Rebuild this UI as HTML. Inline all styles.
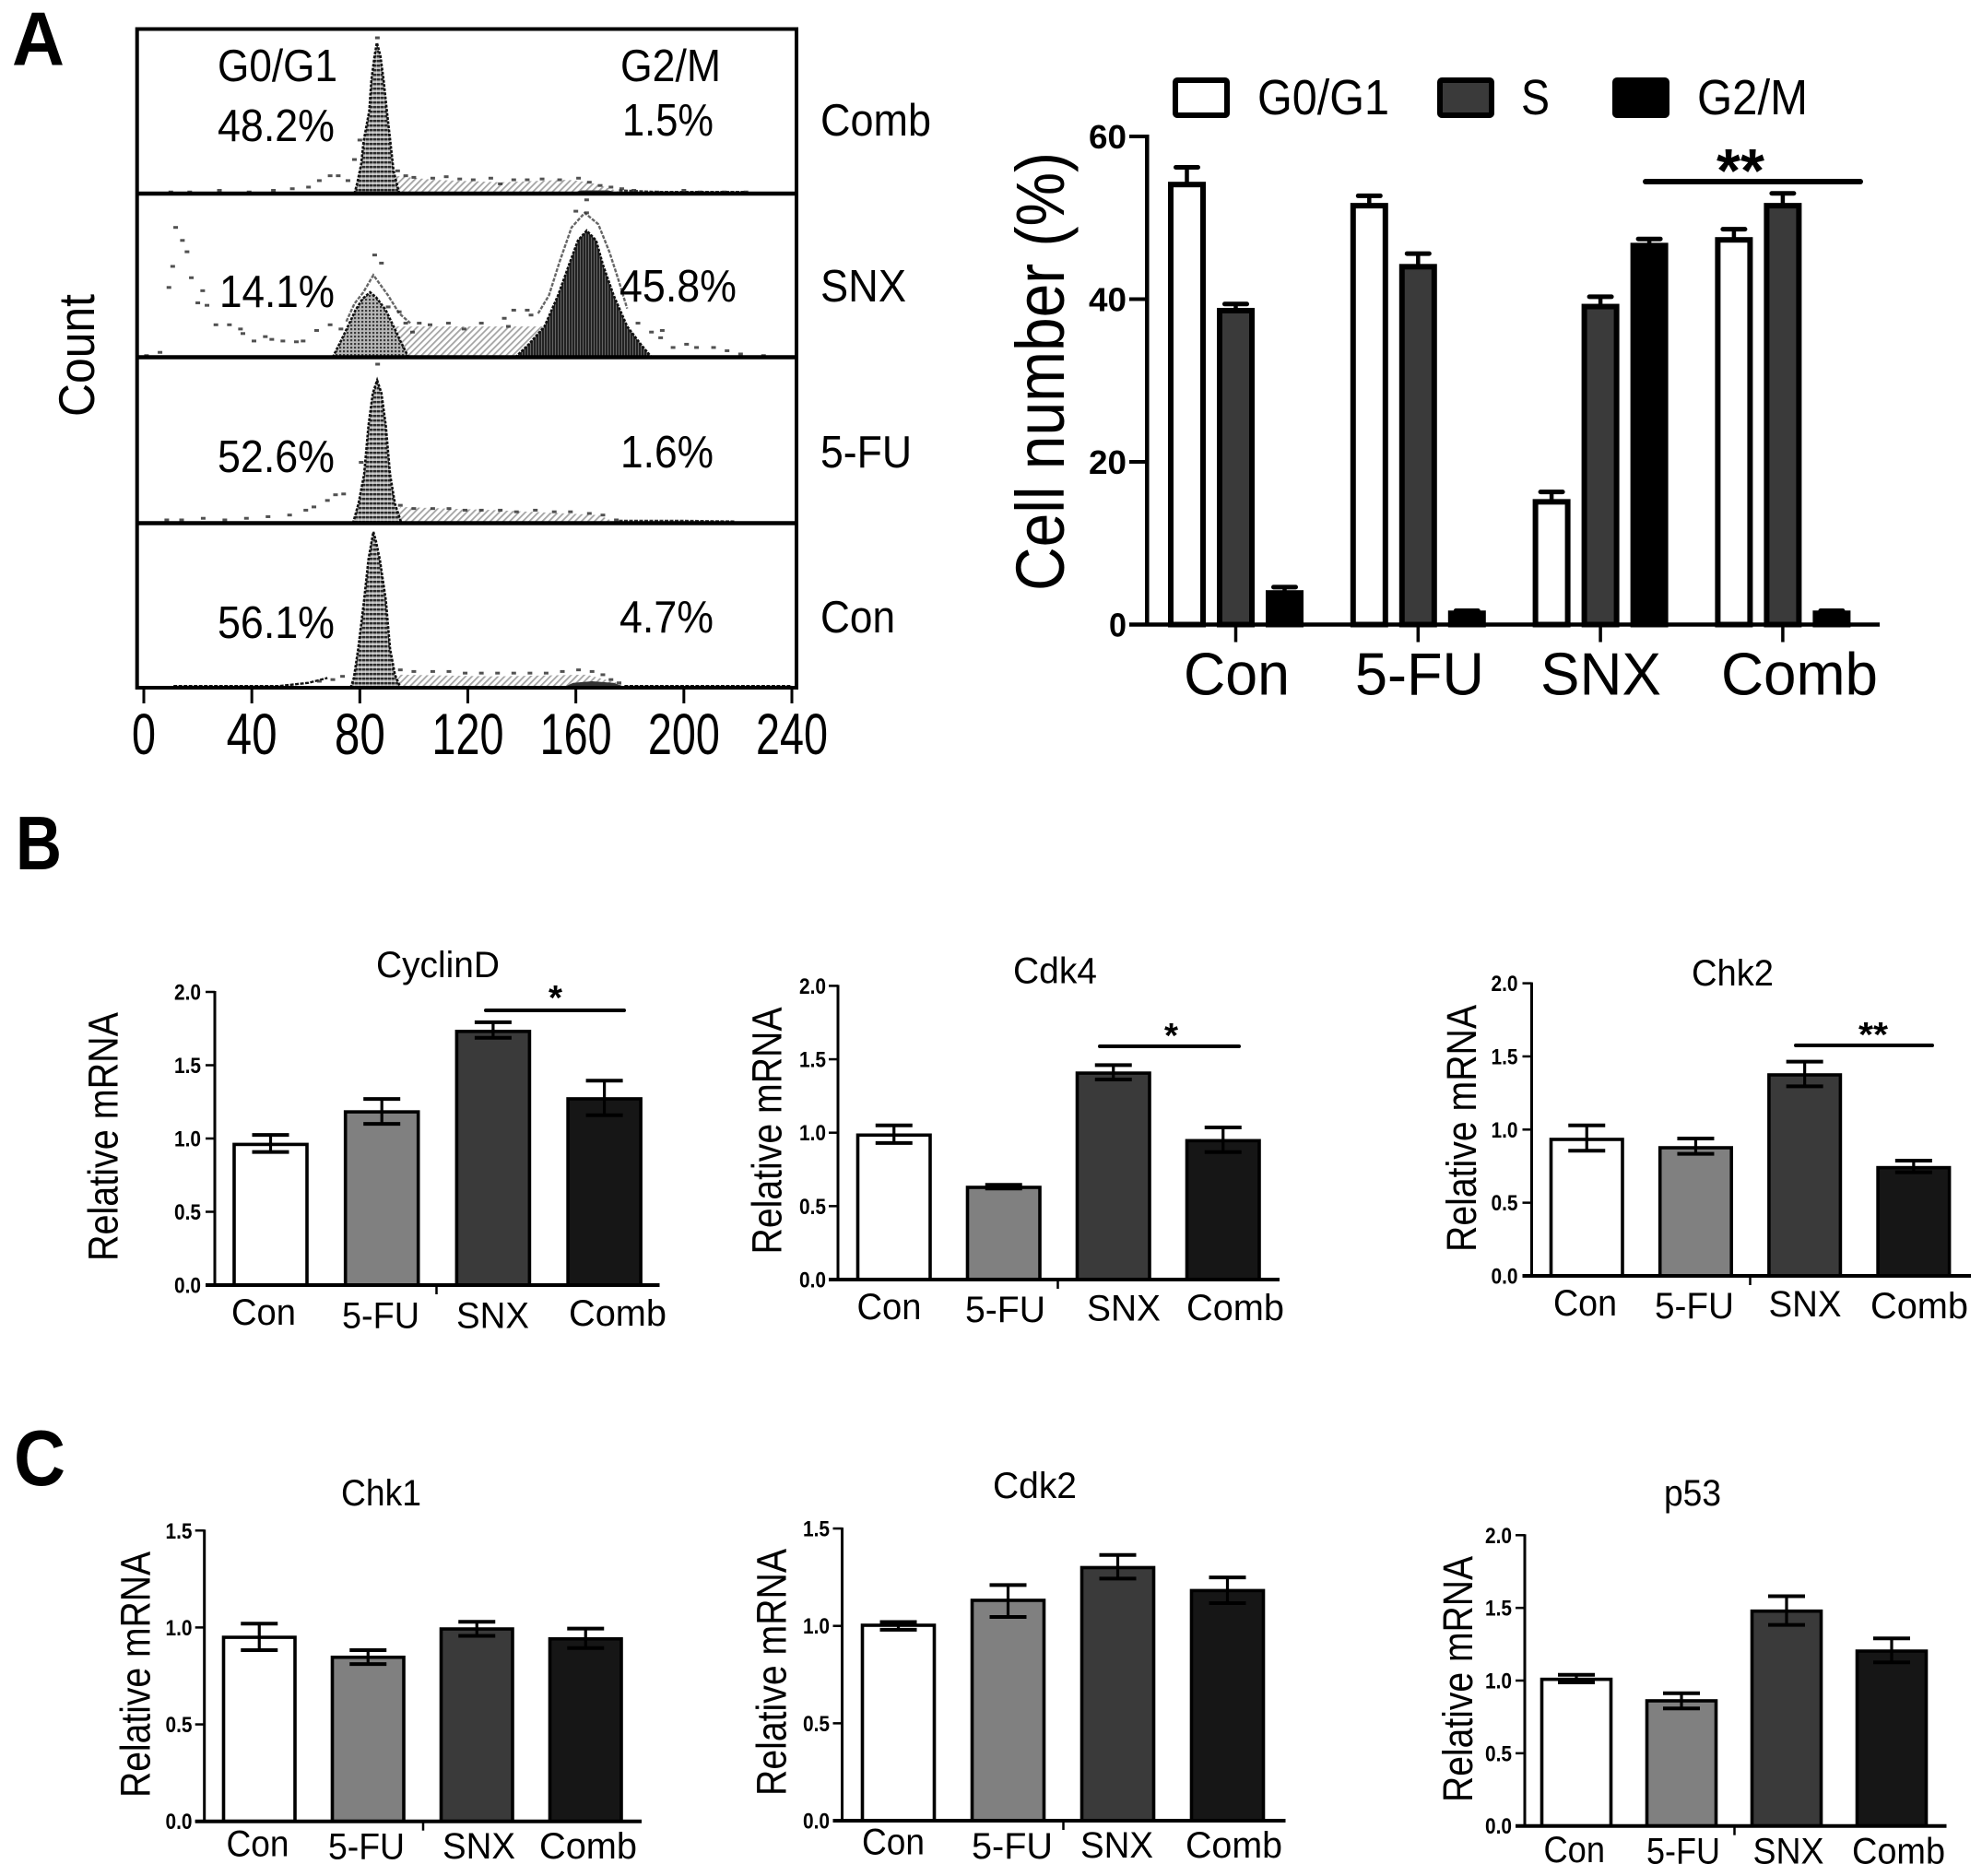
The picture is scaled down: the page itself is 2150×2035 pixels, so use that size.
<!DOCTYPE html>
<html lang="en">
<head>
<meta charset="utf-8">
<title>Cell cycle analysis figure</title>
<style>
html,body{margin:0;padding:0;background:#fff;}
svg{display:block;}
text{font-family:"Liberation Sans",Arial,sans-serif;fill:#000;}
</style>
</head>
<body>
<svg id="figure" xmlns="http://www.w3.org/2000/svg" width="2150" height="2035" viewBox="0 0 2150 2035">
<defs>
<pattern id="fill-g1" width="4" height="5" patternUnits="userSpaceOnUse"><rect width="4" height="5" fill="#bdbdbd"/><rect width="4" height="2.4" fill="#2c2c2c"/><rect width="1" height="5" fill="#fff" opacity=".4"/></pattern>
<pattern id="fill-g1-dot" width="4" height="4" patternUnits="userSpaceOnUse"><rect width="4" height="4" fill="#b8b8b8"/><rect width="2.2" height="2.2" fill="#3c3c3c"/></pattern>
<pattern id="fill-g2" width="3" height="4" patternUnits="userSpaceOnUse"><rect width="3" height="4" fill="#6c6c6c"/><rect width="2.1" height="4" fill="#222"/></pattern>
<pattern id="fill-s" width="5" height="5" patternUnits="userSpaceOnUse" patternTransform="rotate(45)"><rect width="5" height="5" fill="#fff"/><rect width="1.8" height="5" fill="#a4a4a4"/></pattern>
</defs>

<g font-weight="700">
<text x="13" y="70.5" font-size="83" font-weight="700" textLength="57" lengthAdjust="spacingAndGlyphs">A</text>
<text x="17" y="943" font-size="83" font-weight="700" textLength="50" lengthAdjust="spacingAndGlyphs">B</text>
<text x="15" y="1611" font-size="85" font-weight="700" textLength="56" lengthAdjust="spacingAndGlyphs">C</text>
</g>

<g id="flow-layer"></g>

<g font-size="49">
<text x="236" y="88" textLength="130" lengthAdjust="spacingAndGlyphs">G0/G1</text>
<text x="673" y="88" textLength="109" lengthAdjust="spacingAndGlyphs">G2/M</text>
<text x="236" y="153" textLength="127" lengthAdjust="spacingAndGlyphs">48.2%</text>
<text x="675" y="147" textLength="99" lengthAdjust="spacingAndGlyphs">1.5%</text>
<text x="238" y="333" textLength="125" lengthAdjust="spacingAndGlyphs">14.1%</text>
<text x="672" y="327" textLength="127" lengthAdjust="spacingAndGlyphs">45.8%</text>
<text x="236" y="512" textLength="127" lengthAdjust="spacingAndGlyphs">52.6%</text>
<text x="673" y="507" textLength="101" lengthAdjust="spacingAndGlyphs">1.6%</text>
<text x="236" y="692" textLength="127" lengthAdjust="spacingAndGlyphs">56.1%</text>
<text x="672" y="686" textLength="102" lengthAdjust="spacingAndGlyphs">4.7%</text>
<text x="890" y="147" textLength="120" lengthAdjust="spacingAndGlyphs">Comb</text>
<text x="890" y="327" textLength="93" lengthAdjust="spacingAndGlyphs">SNX</text>
<text x="890" y="507" textLength="99" lengthAdjust="spacingAndGlyphs">5-FU</text>
<text x="890" y="686" textLength="81" lengthAdjust="spacingAndGlyphs">Con</text>
<text transform="translate(102,452) rotate(-90)" font-size="55" textLength="133" lengthAdjust="spacingAndGlyphs">Count</text>
</g>

<g>
<rect x="1275" y="87" width="56" height="38" rx="2" fill="#fff" stroke="#000" stroke-width="6"/>
<text x="1364" y="124" font-size="54" textLength="143" lengthAdjust="spacingAndGlyphs">G0/G1</text>
<rect x="1562" y="87" width="56" height="38" rx="2" fill="#3a3a3a" stroke="#000" stroke-width="6"/>
<text x="1650" y="124" font-size="54" textLength="31" lengthAdjust="spacingAndGlyphs">S</text>
<rect x="1752" y="87" width="56" height="38" rx="2" fill="#000" stroke="#000" stroke-width="6"/>
<text x="1841" y="124" font-size="54" textLength="120" lengthAdjust="spacingAndGlyphs">G2/M</text>
</g>

<text transform="translate(1154,641) rotate(-90)" font-size="74" textLength="476" lengthAdjust="spacingAndGlyphs">Cell number (%)</text>
<g id="cell-bars-layer"></g>
<line x1="1785" y1="197" x2="2018" y2="197" stroke="#000" stroke-width="6" stroke-linecap="round"/>
<text x="1862" y="208" font-size="67" font-weight="700" textLength="52" lengthAdjust="spacingAndGlyphs">**</text>

<g id="mrna-layer"></g>

<g font-size="40">
<text x="408" y="1060" textLength="134" lengthAdjust="spacingAndGlyphs">CyclinD</text>
<text x="1099" y="1066.5" textLength="91" lengthAdjust="spacingAndGlyphs">Cdk4</text>
<text x="1835" y="1069" textLength="89" lengthAdjust="spacingAndGlyphs">Chk2</text>
<text x="370" y="1633" textLength="87" lengthAdjust="spacingAndGlyphs">Chk1</text>
<text x="1077" y="1625" textLength="91" lengthAdjust="spacingAndGlyphs">Cdk2</text>
<text x="1805" y="1633" textLength="62" lengthAdjust="spacingAndGlyphs">p53</text>
</g>

<g>
<line x1="527" y1="1096" x2="677" y2="1096" stroke="#000" stroke-width="4" stroke-linecap="round"/>
<text x="595" y="1095" font-size="38" font-weight="700" textLength="15" lengthAdjust="spacingAndGlyphs">*</text>
<line x1="1193" y1="1135" x2="1344" y2="1135" stroke="#000" stroke-width="4" stroke-linecap="round"/>
<text x="1263" y="1136" font-size="38" font-weight="700" textLength="15" lengthAdjust="spacingAndGlyphs">*</text>
<line x1="1948" y1="1134" x2="2096" y2="1134" stroke="#000" stroke-width="4" stroke-linecap="round"/>
<text x="2016" y="1135" font-size="38" font-weight="700" textLength="32" lengthAdjust="spacingAndGlyphs">**</text>
</g>

<script>
/* ---------- Panel A: flow histogram readings as [channel, count] ---------- */
const flowTicks = [0, 40, 80, 120, 160, 200, 240];

const combG1 = [[78,0],[79,6],[80.5,18],[81.4,32],[83.5,51],[84.3,70],[85.5,85],[86.3,93],[87.6,85],[88.8,70],[90,51],[91.3,32],[92.5,14],[94.6,0]];
const combS = [[90,0],[93,11],[107,8.5],[132,7],[157,8.5],[165,7],[173,3],[178,0]];
const combG2 = [[158,0],[162,2],[172,2],[177,0]];
const combTrace = [[176,2],[190,1],[223,1]];
const combDots = [[10,1],[17,1],[28,2],[39,1],[48,2],[55,3],[61,4],[65,8],[69,11],[72,11],[75.6,8],[78,21],[80,33],[86.5,96],[94,14],[97,11],[100,10],[107,9.5],[112,10.4],[117,9],[122,8.5],[128.5,9.5],[132,6],[137,8.5],[142,8.5],[147.5,9],[154,8.5],[161,9.5],[165,7],[169,5],[173,4],[177,3],[181.5,2],[190,1],[200,2],[206,1],[215,1],[223,1]];

const snxG1 = [[70,0],[73,10],[75.6,19],[78.4,29],[81,36],[83.8,40],[86,37],[89.6,29],[92.5,19],[95,10],[98,0]];
const snxS = [[84,0],[92,19],[148,19],[165,0]];
const snxG2 = [[137.6,0],[142.6,8],[148.4,19],[153.4,38],[157.5,57],[160.8,72],[164,78],[167.5,72],[170,57],[174,38],[179,19],[184,8],[188,0]];
const snxTrace = [[75,22],[78,33],[81.3,40],[85,50.6],[90.5,38],[94.6,27],[98.7,21]];
const snxTrace2 = [[146,27],[150,38],[154,59],[158.4,80],[163.3,89],[168.3,82],[172.4,65],[175.7,48],[179,30]];
const snxDots = [[1,1],[6,3],[11.8,80],[14.3,72],[16,65],[10.7,56],[9.3,43],[17.6,49],[21.8,41],[20,33.5],[23.4,32],[26.7,20],[31.7,20],[35.8,17.4],[36.7,14.6],[40.8,10],[45,12.7],[47.4,11],[51.5,10],[56.5,9.5],[59,10],[64,16.5],[69,20],[73,17.4],[85.5,63],[88,58],[90.5,31],[94.6,28],[97,21],[102,21],[99.5,15.5],[106,20],[112.8,21],[118.6,17.4],[125,21],[133.5,24],[137,29],[142,29],[143.4,26],[135,19],[164,97],[160,90],[164,89],[183,21],[188,15.5],[191.4,12],[192,16.5],[196,6],[201,8],[204.7,6],[211,6],[216,4],[221,2],[229.5,1]];

const fuG1 = [[77.5,0],[79.5,12],[81.6,30],[83.2,60],[84.8,80],[86.4,88],[88,80],[89.6,60],[91.2,30],[93,12],[95.4,0]];
const fuS = [[92,0],[95,10],[130,8],[168.5,5],[175.4,0]];
const fuG2 = [[160,0],[165,1],[175,1],[180,0]];
const fuTrace = [[176,1.5],[198,1.5],[219,1]];
const fuDots = [[8.5,2],[14,2],[22,3],[30,2],[38,3],[46,4],[54,5],[60,8],[63,10],[68,14],[71,17.5],[74,18],[80.5,37.5],[86.6,98],[95,11],[100,9],[107,9],[113,9],[119,8],[125,8],[132,8],[138,7],[145,8],[152,7],[158,7],[165,6],[170,5],[175,2]];

const conG1 = [[76.6,0],[77.8,6],[79.4,24],[81.6,54],[83.2,79],[85,96],[86,90],[87.4,79],[89.6,54],[91.2,24],[93,8],[95,0]];
const conS = [[92,0],[95,8],[130,7],[164,8],[175.4,3],[180,0]];
const conG2 = [[155,0],[159,3],[166,4],[174,3],[179,0]];
const conTrace = [[11,1],[30,1],[50,1],[61,3],[68,6]];
const conTrace2 = [[178,1],[200,1],[240,1]];
const conDots = [[73.6,7],[70,5],[65,4],[95,11],[100,10],[107,10],[113,10],[119,9],[125,9],[131,9],[137,9],[143,9],[149,9],[155,10],[161,11],[166,10],[170,8],[173,5],[176,3]];

/* ---------- Panel A: cell number chart values ---------- */
const phaseCategories = ['Con', '5-FU', 'SNX', 'Comb'];
const cellTicks = [0, 20, 40, 60];
const g0g1Means = [54.2, 51.6, 15.2, 47.4];
const g0g1Upper = [56.2, 52.7, 16.3, 48.6];
const sMeans = [38.7, 44.1, 39.2, 51.6];
const sUpper = [39.4, 45.6, 40.3, 53.0];
const g2mMeans = [4.0, 1.5, 46.7, 1.5];
const g2mUpper = [4.6, 1.7, 47.4, 1.7];

/* ---------- Panels B and C: relative mRNA values ---------- */
const treatments = ['Con', '5-FU', 'SNX', 'Comb'];
const ticksTo2 = [0, 0.5, 1, 1.5, 2];
const ticksTo15 = [0, 0.5, 1, 1.5];
const cyclinDMeans = [0.966, 1.188, 1.737, 1.277];
const cyclinDUpper = [1.024, 1.27, 1.793, 1.395];
const cyclinDLower = [0.908, 1.10, 1.687, 1.159];
const cdk4Means = [0.99, 0.634, 1.412, 0.952];
const cdk4Upper = [1.05, 0.645, 1.46, 1.036];
const cdk4Lower = [0.93, 0.62, 1.362, 0.868];
const chk2Means = [0.939, 0.882, 1.38, 0.746];
const chk2Upper = [1.029, 0.939, 1.464, 0.788];
const chk2Lower = [0.855, 0.834, 1.296, 0.708];
const chk1Means = [0.954, 0.851, 0.997, 0.946];
const chk1Upper = [1.02, 0.883, 1.029, 0.994];
const chk1Lower = [0.883, 0.811, 0.957, 0.894];
const cdk2Means = [1.008, 1.136, 1.304, 1.186];
const cdk2Upper = [1.02, 1.21, 1.364, 1.249];
const cdk2Lower = [0.98, 1.046, 1.243, 1.117];
const p53Means = [1.015, 0.867, 1.484, 1.209];
const p53Upper = [1.04, 0.913, 1.58, 1.29];
const p53Lower = [0.987, 0.808, 1.383, 1.125];

const NS = 'http://www.w3.org/2000/svg';
function shape(tag, parent) {
  const node = document.createElementNS(NS, tag);
  parent.appendChild(node);
  return node;
}
function label(parent, x, y, str, size, len, weight, name) {
  const t = shape('text', parent);
  
  
  t.setAttribute('x', x);
  t.setAttribute('y', y);
  t.setAttribute('font-size', size);
  t.setAttribute('font-weight', weight);
  t.setAttribute('textLength', len);
  t.setAttribute('lengthAdjust', 'spacingAndGlyphs');
  t.textContent = str;
  return t;
}
function solidLine(parent, x1, y1, x2, y2, w, name) {
  const l = shape('line', parent);
  
  
  l.setAttribute('x1', x1);
  l.setAttribute('y1', y1);
  l.setAttribute('x2', x2);
  l.setAttribute('y2', y2);
  l.setAttribute('stroke', '#000');
  l.setAttribute('stroke-width', w);
  return l;
}

/* ---------- Flow histogram axes ---------- */
const flowLeft = 148.7, flowRight = 864, flowTop = 31.5;
const flowBaseComb = 210, flowBaseSnx = 387.5, flowBaseFu = 567.5, flowBaseCon = 746;
function xFlow(channel) { return 156 + channel * 703 / 240; }
function yFlow(base, count) { return base - count * 1.76; }
function flowPath(base, pts) {
  return pts.map(function (p, i) {
    return (i ? 'L' : 'M') + xFlow(p[0]).toFixed(1) + ' ' + yFlow(base, p[1]).toFixed(1);
  }).join(' ');
}
function flowArea(parent, base, pts, fill, name, outlined) {
  const a = shape('path', parent);
  
  
  a.setAttribute('d', flowPath(base, pts) + ' Z');
  a.setAttribute('fill', fill);
  if (outlined) {
    a.setAttribute('stroke', '#111');
    a.setAttribute('stroke-width', '2.6');
    a.setAttribute('stroke-dasharray', '3 1.5');
  }
}
function flowTrace(parent, base, pts, name, colour) {
  const tr = shape('path', parent);
  
  
  tr.setAttribute('d', flowPath(base, pts));
  tr.setAttribute('fill', 'none');
  tr.setAttribute('stroke', colour);
  tr.setAttribute('stroke-width', '2.4');
  tr.setAttribute('stroke-dasharray', '4 1.5');
}
function flowDots(parent, base, pts, name) {
  pts.forEach(function (p) {
    const d = shape('rect', parent);
    
    
    d.setAttribute('x', xFlow(p[0]) - 2.5);
    d.setAttribute('y', yFlow(base, p[1]) - 1.5);
    d.setAttribute('width', 5);
    d.setAttribute('height', 3);
    d.setAttribute('fill', '#333');
    d.setAttribute('opacity', '0.85');
  });
}
const flowLayer = document.getElementById('flow-layer');
flowArea(flowLayer, flowBaseComb, combS, 'url(#fill-s)', 'comb-s-phase-area', false);
flowArea(flowLayer, flowBaseComb, combG2, '#333', 'comb-g2m-area', false);
flowArea(flowLayer, flowBaseComb, combG1, 'url(#fill-g1)', 'comb-g0g1-peak', true);
flowTrace(flowLayer, flowBaseComb, combTrace, 'comb-baseline-trace', '#333');
flowDots(flowLayer, flowBaseComb, combDots, 'comb-event-dot');

flowArea(flowLayer, flowBaseSnx, snxS, 'url(#fill-s)', 'snx-s-phase-area', false);
flowArea(flowLayer, flowBaseSnx, snxG2, 'url(#fill-g2)', 'snx-g2m-peak', true);
flowArea(flowLayer, flowBaseSnx, snxG1, 'url(#fill-g1-dot)', 'snx-g0g1-peak', true);
flowTrace(flowLayer, flowBaseSnx, snxTrace, 'snx-g0g1-fit-trace', '#666');
flowTrace(flowLayer, flowBaseSnx, snxTrace2, 'snx-g2m-fit-trace', '#666');
flowDots(flowLayer, flowBaseSnx, snxDots, 'snx-event-dot');

flowArea(flowLayer, flowBaseFu, fuS, 'url(#fill-s)', 'fu-s-phase-area', false);
flowArea(flowLayer, flowBaseFu, fuG2, '#333', 'fu-g2m-area', false);
flowArea(flowLayer, flowBaseFu, fuG1, 'url(#fill-g1)', 'fu-g0g1-peak', true);
flowTrace(flowLayer, flowBaseFu, fuTrace, 'fu-baseline-trace', '#333');
flowDots(flowLayer, flowBaseFu, fuDots, 'fu-event-dot');

flowArea(flowLayer, flowBaseCon, conS, 'url(#fill-s)', 'con-s-phase-area', false);
flowArea(flowLayer, flowBaseCon, conG2, '#333', 'con-g2m-area', false);
flowArea(flowLayer, flowBaseCon, conG1, 'url(#fill-g1)', 'con-g0g1-peak', true);
flowTrace(flowLayer, flowBaseCon, conTrace, 'con-left-trace', '#111');
flowTrace(flowLayer, flowBaseCon, conTrace2, 'con-right-trace', '#111');
flowDots(flowLayer, flowBaseCon, conDots, 'con-event-dot');

const flowFrame = shape('rect', flowLayer);


flowFrame.setAttribute('x', flowLeft);
flowFrame.setAttribute('y', flowTop);
flowFrame.setAttribute('width', flowRight - flowLeft);
flowFrame.setAttribute('height', flowBaseCon - flowTop);
flowFrame.setAttribute('fill', 'none');
flowFrame.setAttribute('stroke', '#000');
flowFrame.setAttribute('stroke-width', '4');
[flowBaseComb, flowBaseSnx, flowBaseFu].forEach(function (b) {
  solidLine(flowLayer, flowLeft, b, flowRight, b, 4.5, 'flow-panel-divider');
});
flowTicks.forEach(function (v) {
  const x = xFlow(v);
  solidLine(flowLayer, x, flowBaseCon, x, 763, 3, 'flow-x-tick');
  const str = String(v);
  const w = str.length === 1 ? 26 : str.length === 2 ? 55 : 78;
  label(flowLayer, x - w / 2, 818, str, 63, w, 400, 'flow-x-tick-label');
});

/* ---------- Cell number grouped bars ---------- */
const cellLayer = document.getElementById('cell-bars-layer');
function yCell(v) { return 677.5 - v * 8.825; }
function xCell(group, phase) { return 1340.5 + group * 197.8 + (phase - 1) * 53; }
function drawCellSeries(means, upper, phase, fill, name) {
  means.forEach(function (m, i) {
    const cx = xCell(i, phase);
    const err = solidLine(cellLayer, cx, yCell(upper[i]), cx, yCell(m), 4.5, name + '-error-bar');
    err.setAttribute('stroke-linecap', 'butt');
    const cap = solidLine(cellLayer, cx - 12, yCell(upper[i]), cx + 12, yCell(upper[i]), 5, name + '-error-cap');
    cap.setAttribute('stroke-linecap', 'round');
    const bar = shape('rect', cellLayer);
    
    
    bar.setAttribute('x', cx - 17.5);
    bar.setAttribute('y', yCell(m) + 1);
    bar.setAttribute('width', 35);
    bar.setAttribute('height', yCell(0) - yCell(m) - 1);
    bar.setAttribute('fill', fill);
    bar.setAttribute('stroke', '#000');
    bar.setAttribute('stroke-width', 6);
  });
}
drawCellSeries(g0g1Means, g0g1Upper, 0, '#fff', 'g0g1');
drawCellSeries(sMeans, sUpper, 1, '#3a3a3a', 's-phase');
drawCellSeries(g2mMeans, g2mUpper, 2, '#000', 'g2m');
solidLine(cellLayer, 1244.3, yCell(60) - 2, 1244.3, yCell(0) + 2, 4.5, 'cell-y-axis');
solidLine(cellLayer, 1225, yCell(0), 2039, yCell(0), 4.5, 'cell-x-axis');
cellTicks.forEach(function (v) {
  solidLine(cellLayer, 1225, yCell(v), 1244, yCell(v), 4, 'cell-y-tick');
  const s = String(v);
  label(cellLayer, 1222 - (s.length === 1 ? 19 : 41), yCell(v) + 13, s, 36, s.length === 1 ? 19 : 41, 700, 'cell-y-tick-label');
});
phaseCategories.forEach(function (c, i) {
  const tx = xCell(i, 1);
  solidLine(cellLayer, tx, yCell(0), tx, 696.5, 3.5, 'cell-x-tick');
});
label(cellLayer, 1284, 753.5, phaseCategories[0], 65, 115, 400, 'cell-x-label-con');
label(cellLayer, 1470, 753.5, phaseCategories[1], 65, 140, 400, 'cell-x-label-5fu');
label(cellLayer, 1671, 753.5, phaseCategories[2], 65, 131, 400, 'cell-x-label-snx');
label(cellLayer, 1867, 753.5, phaseCategories[3], 65, 170, 400, 'cell-x-label-comb');

/* ---------- Relative mRNA bar charts ---------- */
const mrnaLayer = document.getElementById('mrna-layer');
const barFills = ['#ffffff', '#808080', '#3a3a3a', '#161616'];
function drawMrnaChart(layout, means, upper, lower, ticks, chartName) {
  const g = shape('g', mrnaLayer);
  
  
  function y(v) { return layout.y0 - v * layout.unit; }
  function x(i) { return layout.first + i * layout.step; }
  means.forEach(function (m, i) {
    const bar = shape('rect', g);
    
    
    bar.setAttribute('x', x(i) + 1.5);
    bar.setAttribute('y', y(m) + 1);
    bar.setAttribute('width', layout.barW - 3);
    bar.setAttribute('height', y(0) - y(m) - 1);
    bar.setAttribute('fill', barFills[i]);
    bar.setAttribute('stroke', '#000');
    bar.setAttribute('stroke-width', 3.6);
    const cx = x(i) + layout.barW / 2;
    solidLine(g, cx, y(upper[i]), cx, y(lower[i]), 3.2, chartName + '-error-stem');
    solidLine(g, cx - 20, y(upper[i]), cx + 20, y(upper[i]), 4, chartName + '-error-cap-upper');
    solidLine(g, cx - 20, y(lower[i]), cx + 20, y(lower[i]), 4, chartName + '-error-cap-lower');
  });
  solidLine(g, layout.axisX, y(ticks[ticks.length - 1]) - 1, layout.axisX, y(0) + 1, 3, chartName + '-y-axis');
  solidLine(g, layout.axisX - 10, y(0), layout.axisEnd, y(0), 4, chartName + '-x-axis');
  solidLine(g, layout.midTick, y(0), layout.midTick, y(0) + 10, 2.5, chartName + '-x-tick');
  ticks.forEach(function (v) {
    solidLine(g, layout.axisX - 10, y(v), layout.axisX, y(v), 2.5, chartName + '-y-tick');
    label(g, layout.tickLeft, y(v) + 8.5, v.toFixed(1), 24, 29, 700, chartName + '-y-tick-label');
  });
  const title = label(g, 0, 0, 'Relative mRNA', 45, layout.titleLen, 400, chartName + '-y-axis-title');
  title.removeAttribute('x');
  title.removeAttribute('y');
  title.setAttribute('transform', 'translate(' + layout.titleX + ',' + layout.titleY + ') rotate(-90)');
  treatments.forEach(function (t, i) {
    const box = layout.labelBoxes[i];
    label(g, box[0], box[1], t, 40, box[2], 400, chartName + '-x-label');
  });
}
drawMrnaChart({y0: 1394, unit: 159, first: 252.5, step: 120.7, barW: 82, axisX: 233, axisEnd: 715.5, midTick: 473.5,
  tickLeft: 189, titleX: 127.5, titleY: 1368, titleLen: 270,
  labelBoxes: [[251, 1437, 70], [371, 1440.5, 84], [495, 1440.5, 79], [617, 1438, 106]]},
  cyclinDMeans, cyclinDUpper, cyclinDLower, ticksTo2, 'cyclind');
drawMrnaChart({y0: 1388, unit: 159.3, first: 929, step: 119, barW: 81.5, axisX: 909, axisEnd: 1388, midTick: 1147.5,
  tickLeft: 867, titleX: 847.5, titleY: 1360.5, titleLen: 268,
  labelBoxes: [[929.5, 1431, 70], [1047, 1434, 87], [1179, 1432.5, 80], [1287, 1432, 106]]},
  cdk4Means, cdk4Upper, cdk4Lower, ticksTo2, 'cdk4');
drawMrnaChart({y0: 1384, unit: 158.7, first: 1681, step: 118.2, barW: 80.5, axisX: 1661.5, axisEnd: 2138, midTick: 1898.5,
  tickLeft: 1617.5, titleX: 1601, titleY: 1358, titleLen: 268,
  labelBoxes: [[1685, 1427, 69], [1795, 1430, 86], [1918.5, 1428, 79], [2029, 1430, 106]]},
  chk2Means, chk2Upper, chk2Lower, ticksTo2, 'chk2');
drawMrnaChart({y0: 1975.7, unit: 210.3, first: 241, step: 118, barW: 80.5, axisX: 221.7, axisEnd: 696, midTick: 459,
  tickLeft: 179.5, titleX: 162.5, titleY: 1950, titleLen: 267,
  labelBoxes: [[245.5, 2013.5, 68], [356, 2016.5, 83], [480, 2016, 79], [585, 2016, 106]]},
  chk1Means, chk1Upper, chk1Lower, ticksTo15, 'chk1');
drawMrnaChart({y0: 1975, unit: 211.3, first: 934, step: 119, barW: 81, axisX: 913.5, axisEnd: 1394.5, midTick: 1153.5,
  tickLeft: 871, titleX: 852.5, titleY: 1948, titleLen: 268,
  labelBoxes: [[935, 2011.5, 68], [1054, 2016, 88], [1172, 2015, 79], [1286, 2015, 105]]},
  cdk2Means, cdk2Upper, cdk2Lower, ticksTo15, 'cdk2');
drawMrnaChart({y0: 1980.7, unit: 157.7, first: 1671, step: 114, barW: 78, axisX: 1654, axisEnd: 2111.5, midTick: 1881.5,
  tickLeft: 1611, titleX: 1597, titleY: 1955, titleLen: 267,
  labelBoxes: [[1674.5, 2020, 66.5], [1786, 2021.5, 80], [1901.5, 2021.5, 77], [2009, 2021.5, 101]]},
  p53Means, p53Upper, p53Lower, ticksTo2, 'p53');
</script>
</svg>
</body>
</html>
